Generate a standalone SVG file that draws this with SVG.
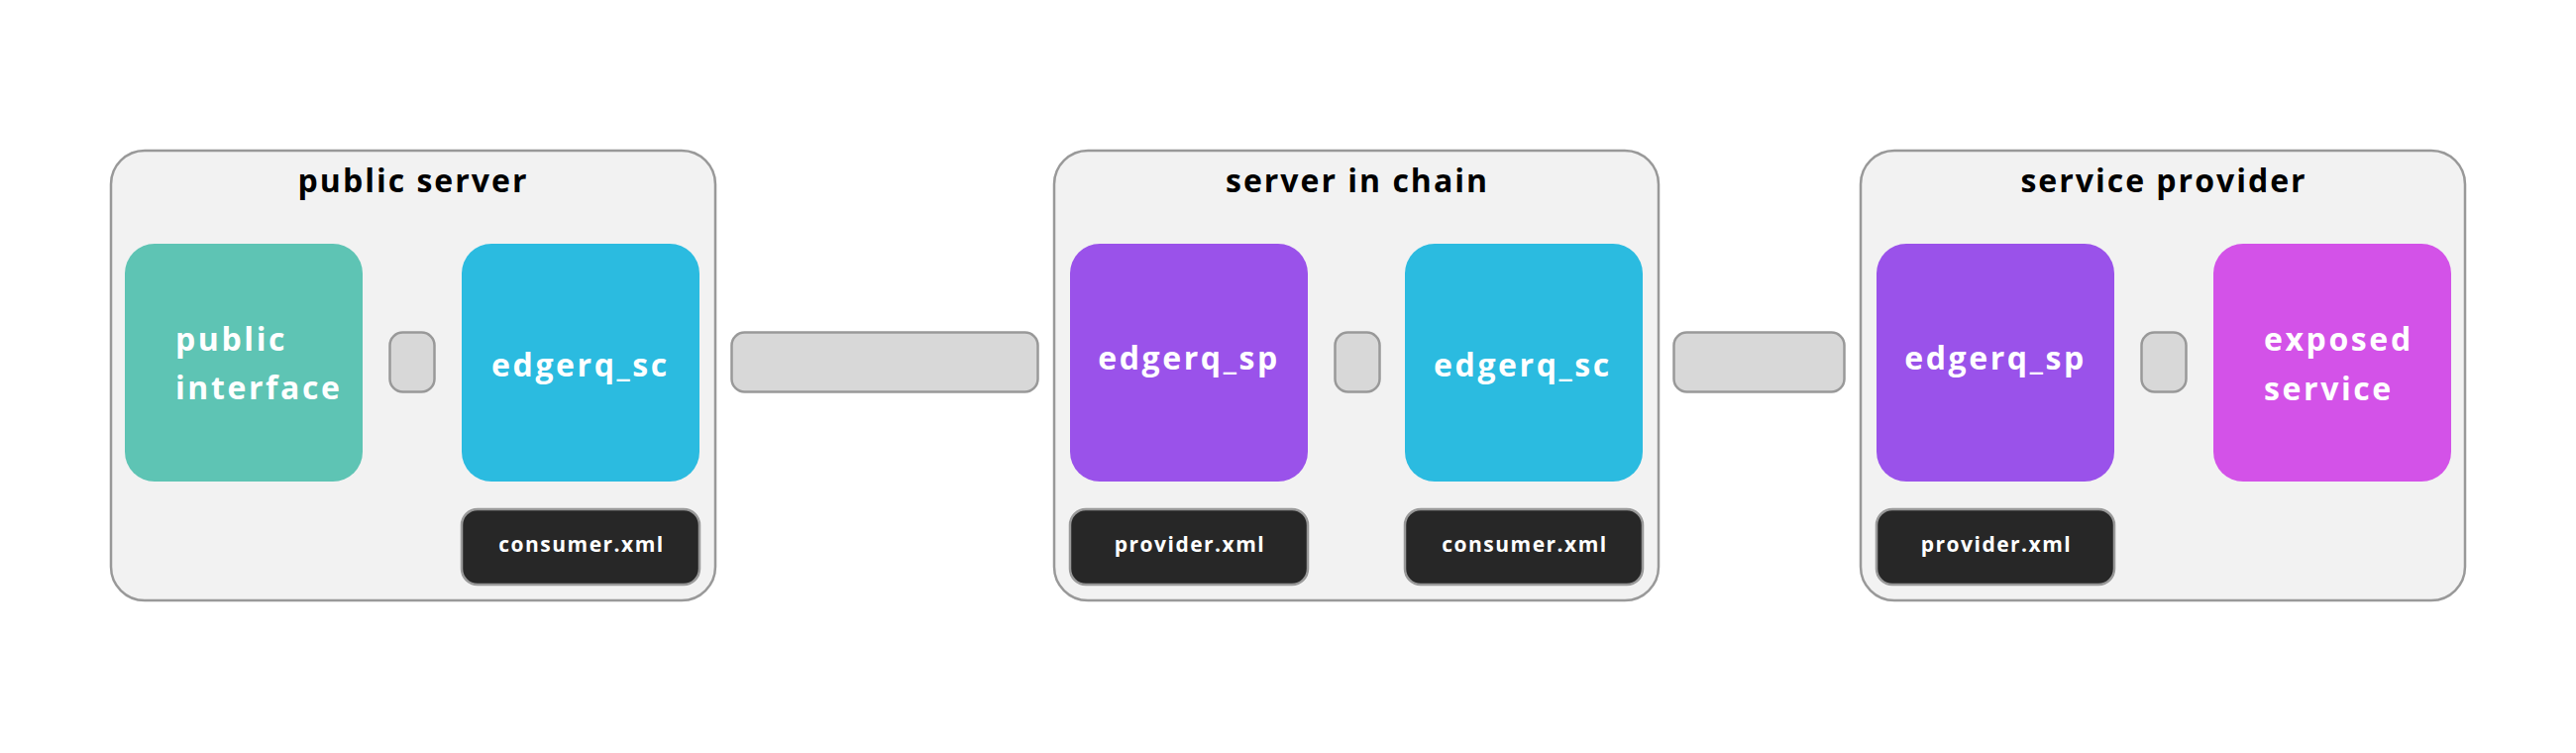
<svg xmlns="http://www.w3.org/2000/svg" width="2600" height="760" viewBox="0 0 2600 760">
<style>
.container{fill:#f2f2f2;stroke:#999999;stroke-width:2.5}
.box{stroke:none}
.teal{fill:#5ec4b4}
.cyan{fill:#2bbbe0}
.purple{fill:#9a52ea}
.magenta{fill:#d352e8}
.xml{fill:#272727;stroke:#999999;stroke-width:2.5}
.conn{fill:#d8d8d8;stroke:#999999;stroke-width:2.5}
.title{font-family:"Open Sans","Noto Sans",sans-serif;font-weight:700;font-size:32px;fill:#000000;text-anchor:middle;letter-spacing:2px}
.label{font-family:"Open Sans","Noto Sans",sans-serif;font-weight:700;font-size:32px;fill:#ffffff;letter-spacing:2.6px}
.mid{text-anchor:middle}
.small{font-family:"Open Sans","Noto Sans",sans-serif;font-weight:700;font-size:21px;fill:#ffffff;text-anchor:middle;letter-spacing:1.5px}
</style>
<rect width="2600" height="760" fill="#ffffff"/>
<g id="public-server">
<rect class="container" x="112" y="152" width="610" height="454" rx="34"/>
<text class="title" x="417" y="194">public server</text>
</g>
<g id="server-in-chain">
<rect class="container" x="1064" y="152" width="610" height="454" rx="34"/>
<text class="title" x="1370" y="194">server in chain</text>
</g>
<g id="service-provider">
<rect class="container" x="1878" y="152" width="610" height="454" rx="34"/>
<text class="title" x="2184" y="194">service provider</text>
</g>
<g id="connectors">
<rect class="conn" x="393.5" y="335.5" width="45" height="60" rx="13"/>
<rect class="conn" x="738.5" y="335.5" width="309" height="60" rx="13"/>
<rect class="conn" x="1347.5" y="335.5" width="45" height="60" rx="13"/>
<rect class="conn" x="1689.5" y="335.5" width="172" height="60" rx="13"/>
<rect class="conn" x="2161.5" y="335.5" width="45" height="60" rx="13"/>
</g>
<g id="public-interface">
<rect class="box teal" x="126" y="246" width="240" height="240" rx="30"/>
<text class="label" x="177" y="354">public</text>
<text class="label" x="177" y="403">interface</text>
</g>
<g id="edgerq-sc-1">
<rect class="box cyan" x="466" y="246" width="240" height="240" rx="30"/>
<text class="label mid" x="586" y="380">edgerq_sc</text>
</g>
<g id="consumer-xml-1">
<rect class="xml" x="466" y="514" width="240" height="76" rx="16"/>
<text class="small" x="587" y="557">consumer.xml</text>
</g>
<g id="edgerq-sp-2">
<rect class="box purple" x="1080" y="246" width="240" height="240" rx="30"/>
<text class="label mid" x="1200" y="373">edgerq_sp</text>
</g>
<g id="provider-xml-2">
<rect class="xml" x="1080" y="514" width="240" height="76" rx="16"/>
<text class="small" x="1201" y="557">provider.xml</text>
</g>
<g id="edgerq-sc-2">
<rect class="box cyan" x="1418" y="246" width="240" height="240" rx="30"/>
<text class="label mid" x="1537" y="380">edgerq_sc</text>
</g>
<g id="consumer-xml-2">
<rect class="xml" x="1418" y="514" width="240" height="76" rx="16"/>
<text class="small" x="1539" y="557">consumer.xml</text>
</g>
<g id="edgerq-sp-3">
<rect class="box purple" x="1894" y="246" width="240" height="240" rx="30"/>
<text class="label mid" x="2014" y="373">edgerq_sp</text>
</g>
<g id="provider-xml-3">
<rect class="xml" x="1894" y="514" width="240" height="76" rx="16"/>
<text class="small" x="2015" y="557">provider.xml</text>
</g>
<g id="exposed-service">
<rect class="box magenta" x="2234" y="246" width="240" height="240" rx="30"/>
<text class="label" x="2285" y="354">exposed</text>
<text class="label" x="2285" y="404">service</text>
</g>
</svg>
